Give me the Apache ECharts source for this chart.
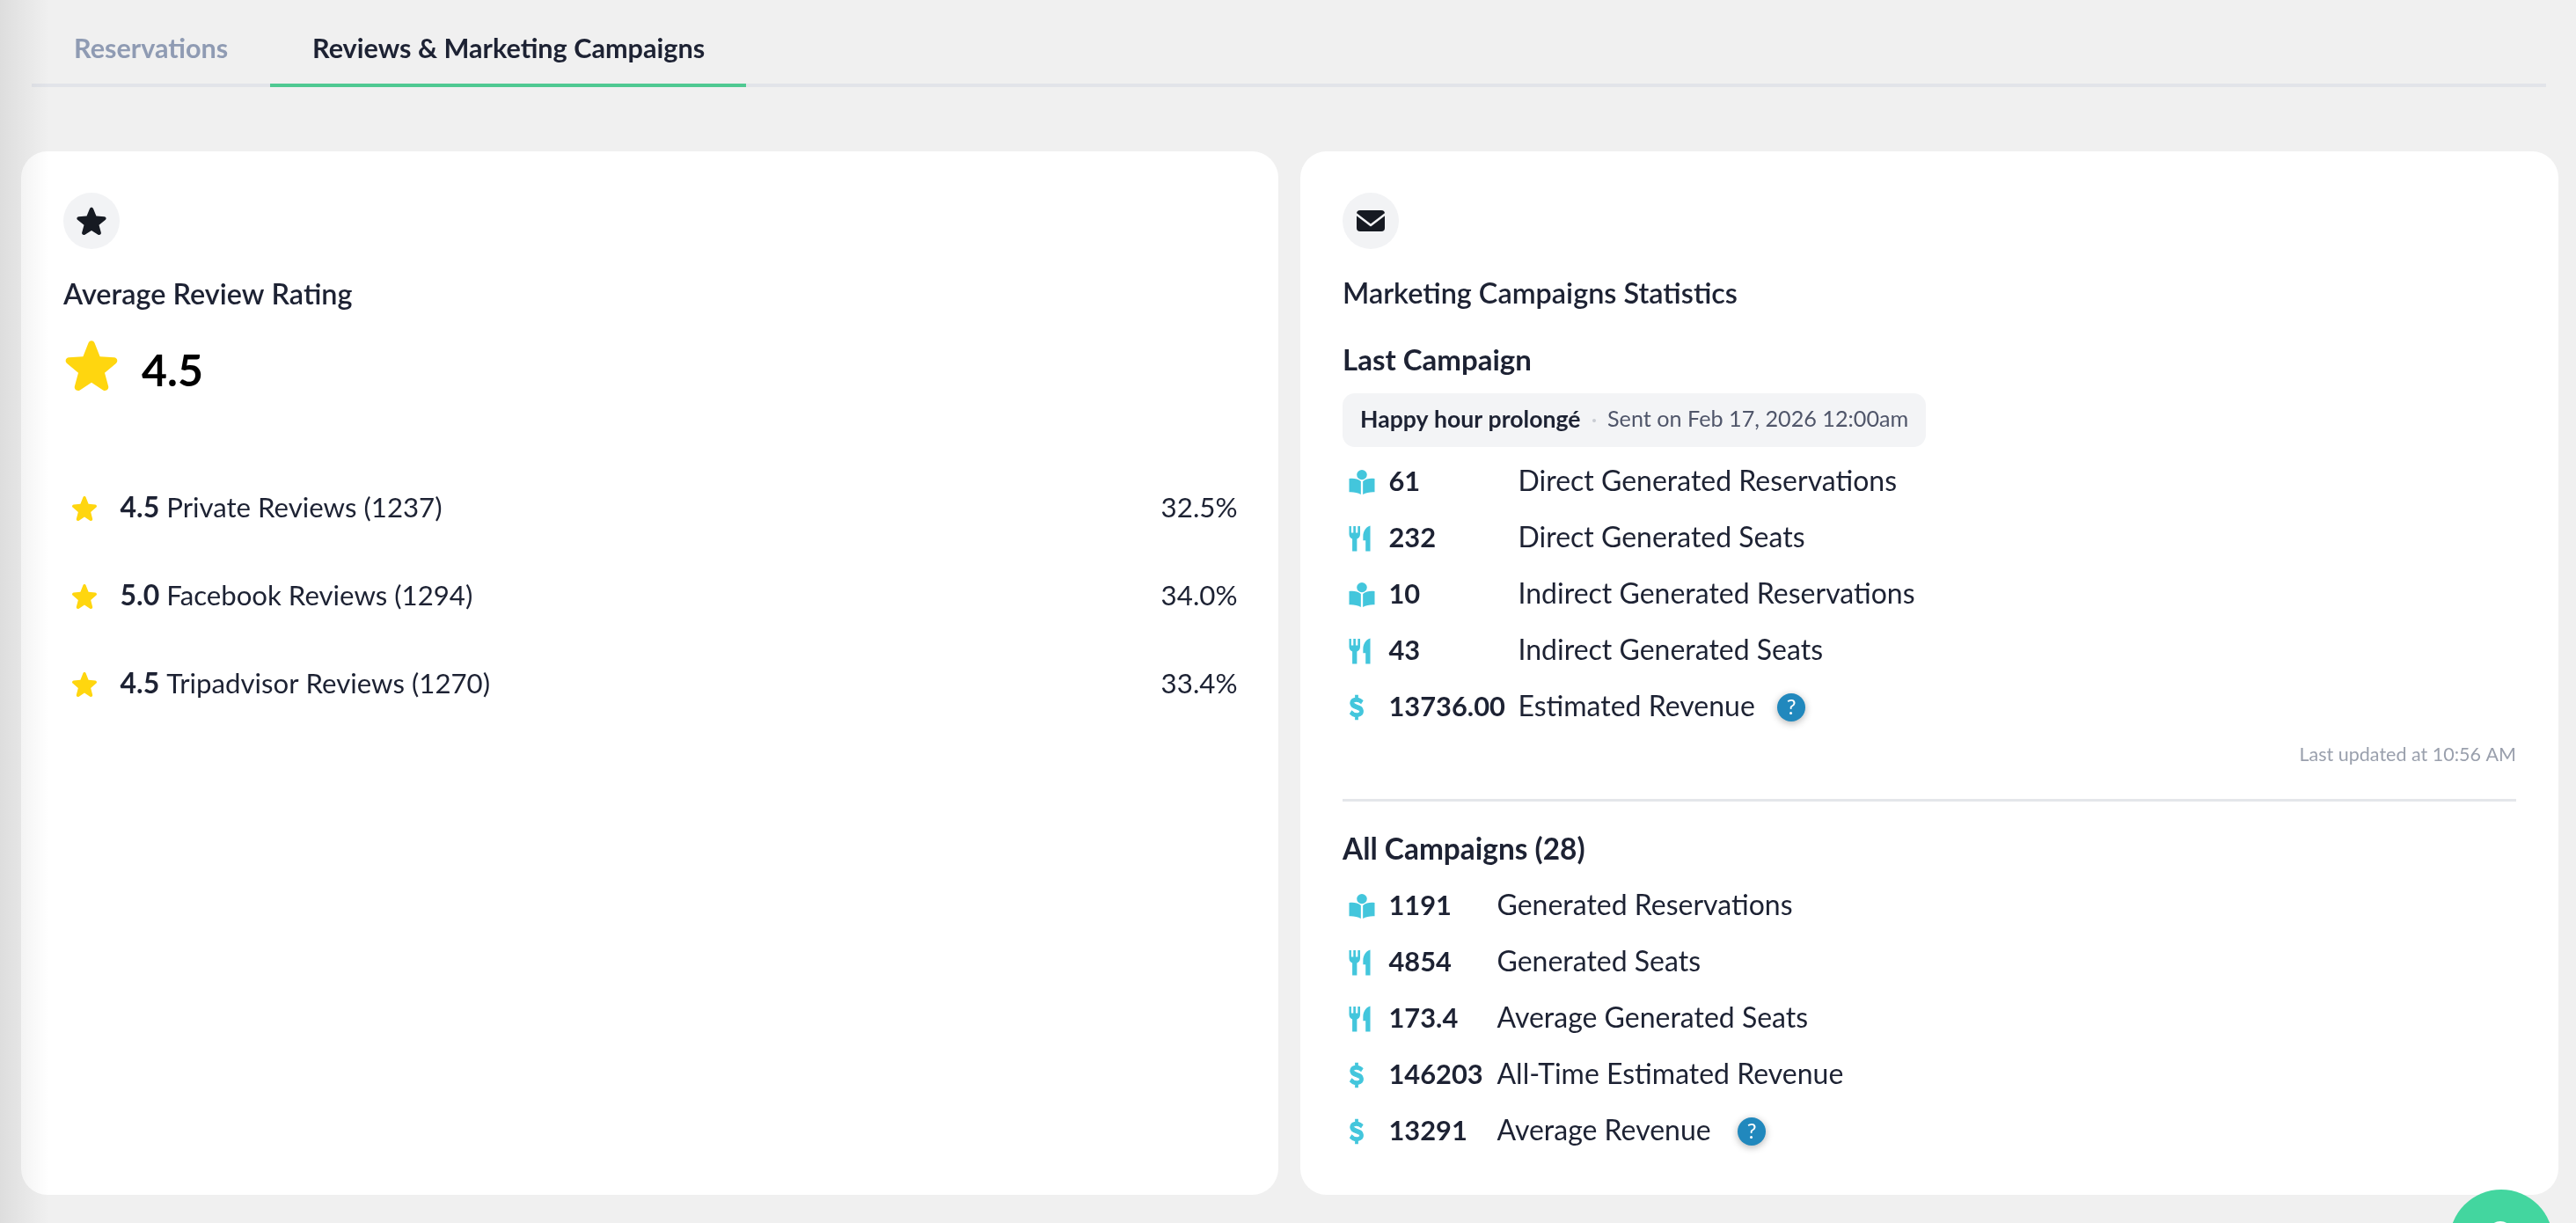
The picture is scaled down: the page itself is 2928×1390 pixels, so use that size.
<!DOCTYPE html>
<html>
<head>
<meta charset="utf-8">
<title>Reviews & Marketing Campaigns</title>
<style>
html, body { margin: 0; padding: 0; background: #f0f0f0; }
#main { width: 2928px; height: 1390px; }
</style>
<script src="https://cdn.jsdelivr.net/npm/echarts@6/dist/echarts.min.js"></script>
</head>
<body>
<div id="main"></div>
<script>
// review rows
var reviewRatings = ['4.5', '5.0', '4.5'];
var reviewNames = ['Private Reviews (1237)', 'Facebook Reviews (1294)', 'Tripadvisor Reviews (1270)'];
var reviewShares = ['32.5%', '34.0%', '33.4%'];

// last campaign rows
var lastIcons = ['book', 'fork', 'book', 'fork', 'dollar'];
var lastValues = ['61', '232', '10', '43', '13736.00'];
var lastLabels = ['Direct Generated Reservations', 'Direct Generated Seats', 'Indirect Generated Reservations', 'Indirect Generated Seats', 'Estimated Revenue'];

// all campaigns rows
var allIcons = ['book', 'fork', 'fork', 'dollar', 'dollar'];
var allValues = ['1191', '4854', '173.4', '146203', '13291'];
var allLabels = ['Generated Reservations', 'Generated Seats', 'Average Generated Seats', 'All-Time Estimated Revenue', 'Average Revenue'];

var FONT = 'Lato';
var INK = '#1d2233';
var CYAN = '#43c6dc';
var STAR_PATH = 'M50 2 C53 2 55 4 56 7 L66 33 L93 35 C99 36 101 43 96 47 L75 65 L82 92 C83 98 77 102 72 99 L50 84 L28 99 C23 102 17 98 18 92 L25 65 L4 47 C-1 43 1 36 7 35 L34 33 L44 7 C45 4 47 2 50 2 Z';
var STAR = 'path://' + STAR_PATH;
var BOOK = 'path://M50 0 A20 20 0 1 1 49.9 0 Z M0 36 C16 33 34 36 46 46 L46 100 C34 92 16 89 0 90 Z M100 36 C84 33 66 36 54 46 L54 100 C66 92 84 89 100 90 Z';
var FORK = 'path://M0 2 L10 2 L10 28 L20 28 L20 2 L31 2 L31 28 L41 28 L41 2 L52 2 L52 34 C52 44 44 50 37 52 L37 100 L15 100 L15 52 C8 50 0 44 0 34 Z M100 0 C85 2 66 18 66 42 L66 58 L78 58 L78 100 L100 100 Z';
var DOLLAR = 'path://M24 0 L36 0 L36 11 C46 13 53 17 58 22 L50 33 C44 28 37 24 28 24 C21 24 17 27 17 31 C17 36 24 38 33 41 C46 45 60 50 60 66 C60 78 51 86 36 88 L36 100 L24 100 L24 89 C13 87 5 83 0 77 L8 65 C14 71 22 76 31 76 C39 76 44 72 44 67 C44 62 37 59 28 56 C15 52 1 47 1 32 C1 21 10 13 24 11 Z';
var ICONS = {book: BOOK, fork: FORK, dollar: DOLLAR};
var ICON_SIZE = {book: [29, 28], fork: [24, 29], dollar: [15, 27]};
var ICON_SHIFT = {book: 0, fork: -2.5, dollar: -6};

echarts.graphic.registerShape('starIcon', echarts.graphic.extendPath(STAR_PATH, {}));

// one hidden grid per table, the rows come from the category axis
function grid(left, top, width, height) {
    return {left: left, top: top, width: width, height: height, containLabel: false};
}
function xAxis(i, width) {
    return {gridIndex: i, type: 'value', min: 0, max: width, show: false};
}
function yAxis(i, cats) {
    return {gridIndex: i, type: 'category', data: cats, inverse: true, show: false};
}
function textSeries(i, cats, x, texts, font) {
    return {
        type: 'scatter',
        xAxisIndex: i,
        yAxisIndex: i,
        symbolSize: 1,
        itemStyle: {color: 'rgba(0,0,0,0)', opacity: 1},
        silent: true,
        data: cats.map(function (c) { return [x, c]; }),
        label: {
            show: true,
            position: font.align === 'right' ? 'left' : 'right',
            distance: 0,
            color: font.color || INK,
            fontFamily: FONT,
            fontSize: font.size,
            fontWeight: font.weight || 400,
            formatter: function (p) { return texts[p.dataIndex]; },
            rich: font.rich
        }
    };
}
function iconSeries(i, cats, x, icons) {
    return {
        type: 'scatter',
        xAxisIndex: i,
        yAxisIndex: i,
        silent: true,
        data: cats.map(function (c, k) {
            var name = icons[k];
            return {
                value: [x, c],
                symbol: ICONS[name],
                symbolSize: ICON_SIZE[name],
                symbolOffset: [ICON_SHIFT[name], 0],
                itemStyle: name === 'dollar' ? {borderColor: CYAN, borderWidth: 1} : {}
            };
        }),
        itemStyle: {color: CYAN, opacity: 1}
    };
}
function helpSeries(i, label, x) {
    return {
        type: 'scatter',
        xAxisIndex: i,
        yAxisIndex: i,
        silent: true,
        symbol: 'circle',
        symbolSize: 32,
        itemStyle: {color: '#2188bd', opacity: 1, shadowBlur: 8, shadowColor: 'rgba(0,0,0,0.3)', shadowOffsetY: 2},
        label: {show: true, position: 'inside', formatter: '?', color: '#fff', fontFamily: FONT, fontSize: 24},
        data: [[x, label]]
    };
}

var reviewCats = reviewNames;
var reviewRich = reviewRatings.map(function (r, k) {
    return '{b|' + r + '} ' + reviewNames[k];
});

var option = {
    animation: false,
    backgroundColor: '#f0f0f0',
    grid: [grid(0, 528, 2928, 300), grid(0, 516, 2928, 320), grid(0, 998, 2928, 320)],
    xAxis: [xAxis(0, 2928), xAxis(1, 2928), xAxis(2, 2928)],
    yAxis: [yAxis(0, reviewCats), yAxis(1, lastLabels), yAxis(2, allLabels)],
    series: [
        {
            type: 'scatter', xAxisIndex: 0, yAxisIndex: 0, silent: true,
            symbol: STAR, symbolSize: 28, itemStyle: {color: '#ffd60f', opacity: 1},
            data: reviewCats.map(function (c) { return [96, c]; })
        },
        textSeries(0, reviewCats, 136, reviewRich, {size: 31.2, rich: {b: {fontFamily: FONT, fontSize: 32, fontWeight: 700, color: INK}}}),
        textSeries(0, reviewCats, 1407, reviewShares, {size: 31.3, align: 'right'}),
        iconSeries(1, lastLabels, 1548, lastIcons),
        textSeries(1, lastLabels, 1578, lastValues, {size: 30.8, weight: 700}),
        textSeries(1, lastLabels, 1725, lastLabels, {size: 32}),
        helpSeries(1, 'Estimated Revenue', 2036),
        iconSeries(2, allLabels, 1548, allIcons),
        textSeries(2, allLabels, 1578, allValues, {size: 30.8, weight: 700}),
        textSeries(2, allLabels, 1701, allLabels, {size: 32}),
        helpSeries(2, 'Average Revenue', 1991)
    ],
    graphic: [
        // cards
        {type: 'rect', z: -1, shape: {x: 24, y: 172, width: 1429, height: 1186, r: 30}, style: {fill: '#fff'}},
        {type: 'rect', z: -1, shape: {x: 1478, y: 172, width: 1430, height: 1186, r: 30}, style: {fill: '#fff'}},
        // tabs
        {type: 'text', x: 84, y: 56, style: {text: 'Reservations', font: '700 30.6px ' + FONT, fill: '#8f9bb3', textVerticalAlign: 'middle'}},
        {type: 'text', x: 355, y: 56, style: {text: 'Reviews & Marketing Campaigns', font: '700 30.6px ' + FONT, fill: INK, textVerticalAlign: 'middle'}},
        {type: 'rect', shape: {x: 36, y: 95, width: 2858, height: 4}, style: {fill: '#e2e4e9'}},
        {type: 'rect', shape: {x: 307, y: 95, width: 541, height: 4}, style: {fill: '#4fc992'}},
        // left card head
        {type: 'circle', shape: {cx: 104, cy: 251, r: 32}, style: {fill: '#f2f3f5'}},
        {type: 'starIcon', x: 87, y: 235, scaleX: 0.34, scaleY: 0.32, style: {fill: '#161a22'}},
        {type: 'text', x: 72, y: 336, style: {text: 'Average Review Rating', font: '600 32.4px ' + FONT, fill: INK, textVerticalAlign: 'middle'}},
        {type: 'starIcon', x: 74, y: 386, scaleX: 0.6, scaleY: 0.58, style: {fill: '#ffd60f'}},
        {type: 'text', x: 161, y: 423, style: {text: '4.5', font: '700 50px ' + FONT, fill: '#000', textVerticalAlign: 'middle'}},
        // right card head
        {type: 'circle', shape: {cx: 1558, cy: 251, r: 32}, style: {fill: '#f2f3f5'}},
        {type: 'rect', shape: {x: 1542, y: 239, width: 32, height: 24, r: 4}, style: {fill: '#161a22'}},
        {type: 'polyline', shape: {points: [[1541, 243], [1558, 256], [1575, 243]]}, style: {stroke: '#f2f3f5', lineWidth: 2.5, lineJoin: 'round', fill: null}},
        {type: 'text', x: 1526, y: 335, style: {text: 'Marketing Campaigns Statistics', font: '600 32.4px ' + FONT, fill: INK, textVerticalAlign: 'middle'}},
        {type: 'text', x: 1526, y: 410, style: {text: 'Last Campaign', font: '700 33px ' + FONT, fill: INK, textVerticalAlign: 'middle'}},
        {type: 'rect', shape: {x: 1526, y: 447, width: 663, height: 61, r: 14}, style: {fill: '#f3f4f6'}},
        {type: 'text', x: 1546, y: 477, style: {text: 'Happy hour prolong\u00e9', font: '700 26.6px ' + FONT, fill: INK, textVerticalAlign: 'middle'}},
        {type: 'circle', shape: {cx: 1812, cy: 478, r: 2}, style: {fill: '#c9ccd3'}},
        {type: 'text', x: 1827, y: 477, style: {text: 'Sent on Feb 17, 2026 12:00am', font: '400 25.2px ' + FONT, fill: '#50566a', textVerticalAlign: 'middle'}},
        {type: 'text', x: 2860, y: 858, style: {text: 'Last updated at 10:56 AM', font: '400 21.5px ' + FONT, fill: '#9aa0ad', textAlign: 'right', textVerticalAlign: 'middle'}},
        {type: 'rect', shape: {x: 1526, y: 908, width: 1334, height: 3}, style: {fill: '#e4e6ea'}},
        {type: 'text', x: 1526, y: 966, style: {text: 'All Campaigns (28)', font: '700 33.4px ' + FONT, fill: INK, textVerticalAlign: 'middle'}},
        // chat bubble, cut by the window
        {type: 'circle', z: 10, shape: {cx: 2843, cy: 1411, r: 59}, style: {fill: '#43d69f'}},
        {type: 'circle', z: 11, shape: {cx: 2842, cy: 1402, r: 14}, style: {fill: '#fff'}},
        // shadow of the side menu, over the left edge
        {type: 'rect', z: 20, silent: true, shape: {x: 0, y: 0, width: 56, height: 1390},
            style: {fill: new echarts.graphic.LinearGradient(0, 0, 1, 0, [{offset: 0, color: 'rgba(0,0,0,0.08)'}, {offset: 1, color: 'rgba(0,0,0,0)'}])}}
    ]
};

var myChart = echarts.init(document.getElementById('main'));
myChart.setOption(option);
</script>
</body>
</html>
